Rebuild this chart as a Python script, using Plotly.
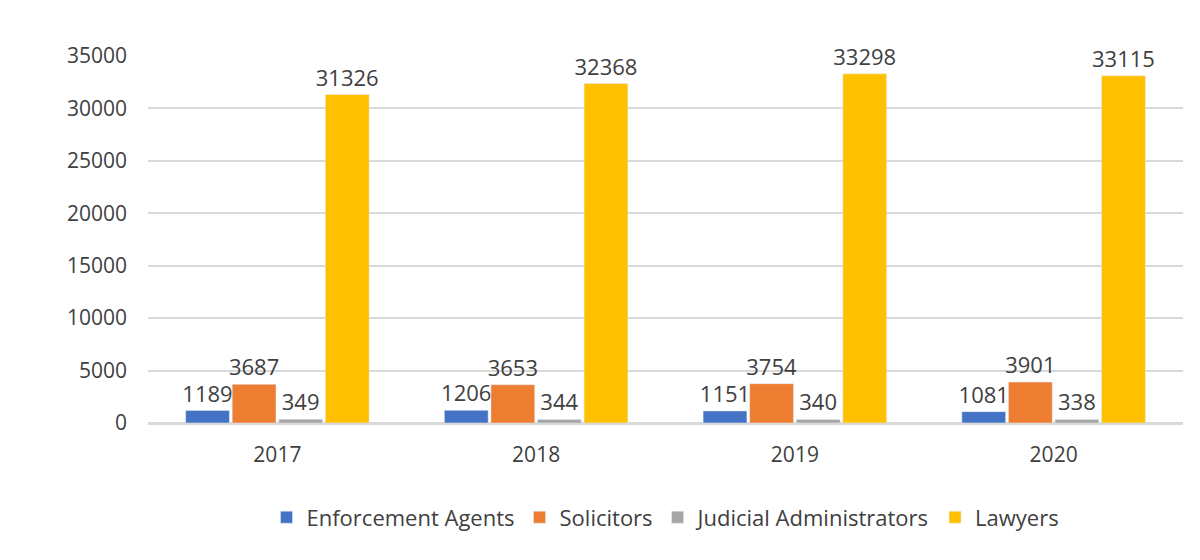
import plotly.graph_objects as go

# Donnees
years = ["2017", "2018", "2019", "2020"]
enforcement = [1189, 1206, 1151, 1081]
solicitors = [3687, 3653, 3754, 3901]
judicial = [349, 344, 340, 338]
lawyers = [31326, 32368, 33298, 33115]

series = [
    ("Enforcement Agents", enforcement, "#4472C4"),
    ("Solicitors", solicitors, "#ED7D31"),
    ("Judicial Administrators", judicial, "#A5A5A5"),
    ("Lawyers", lawyers, "#FFC000"),
]

fig = go.Figure()
for name, vals, col in series:
    fig.add_trace(go.Bar(x=years, y=vals, name=name, marker_color=col,
                         text=vals, textposition="outside", cliponaxis=False,
                         textfont=dict(size=22, color="#404040")))

fig.update_layout(
    width=1200, height=560,
    plot_bgcolor="white", paper_bgcolor="white",
    font=dict(family="Open Sans, Liberation Sans, sans-serif", size=21, color="#404040"),
    barmode="group", bargap=0.28, bargroupgap=0.06,
    uniformtext=dict(minsize=22, mode="show"),
    margin=dict(l=140, r=25, t=48, b=145),
    yaxis=dict(range=[0, 35000], dtick=5000, tickformat="d", showgrid=True,
               gridcolor="#D9D9D9", gridwidth=2, zeroline=True,
               zerolinecolor="#D9D9D9", zerolinewidth=2,
               ticks="", ticklabelstandoff=20),
    xaxis=dict(showline=True, linecolor="#D9D9D9", linewidth=2, ticks="",
               ticklabelstandoff=12),
    legend=dict(orientation="h", x=0.5, xanchor="center", y=-0.2, yanchor="top",
                font=dict(size=22), itemwidth=30),
)

fig.write_html("out.html")
